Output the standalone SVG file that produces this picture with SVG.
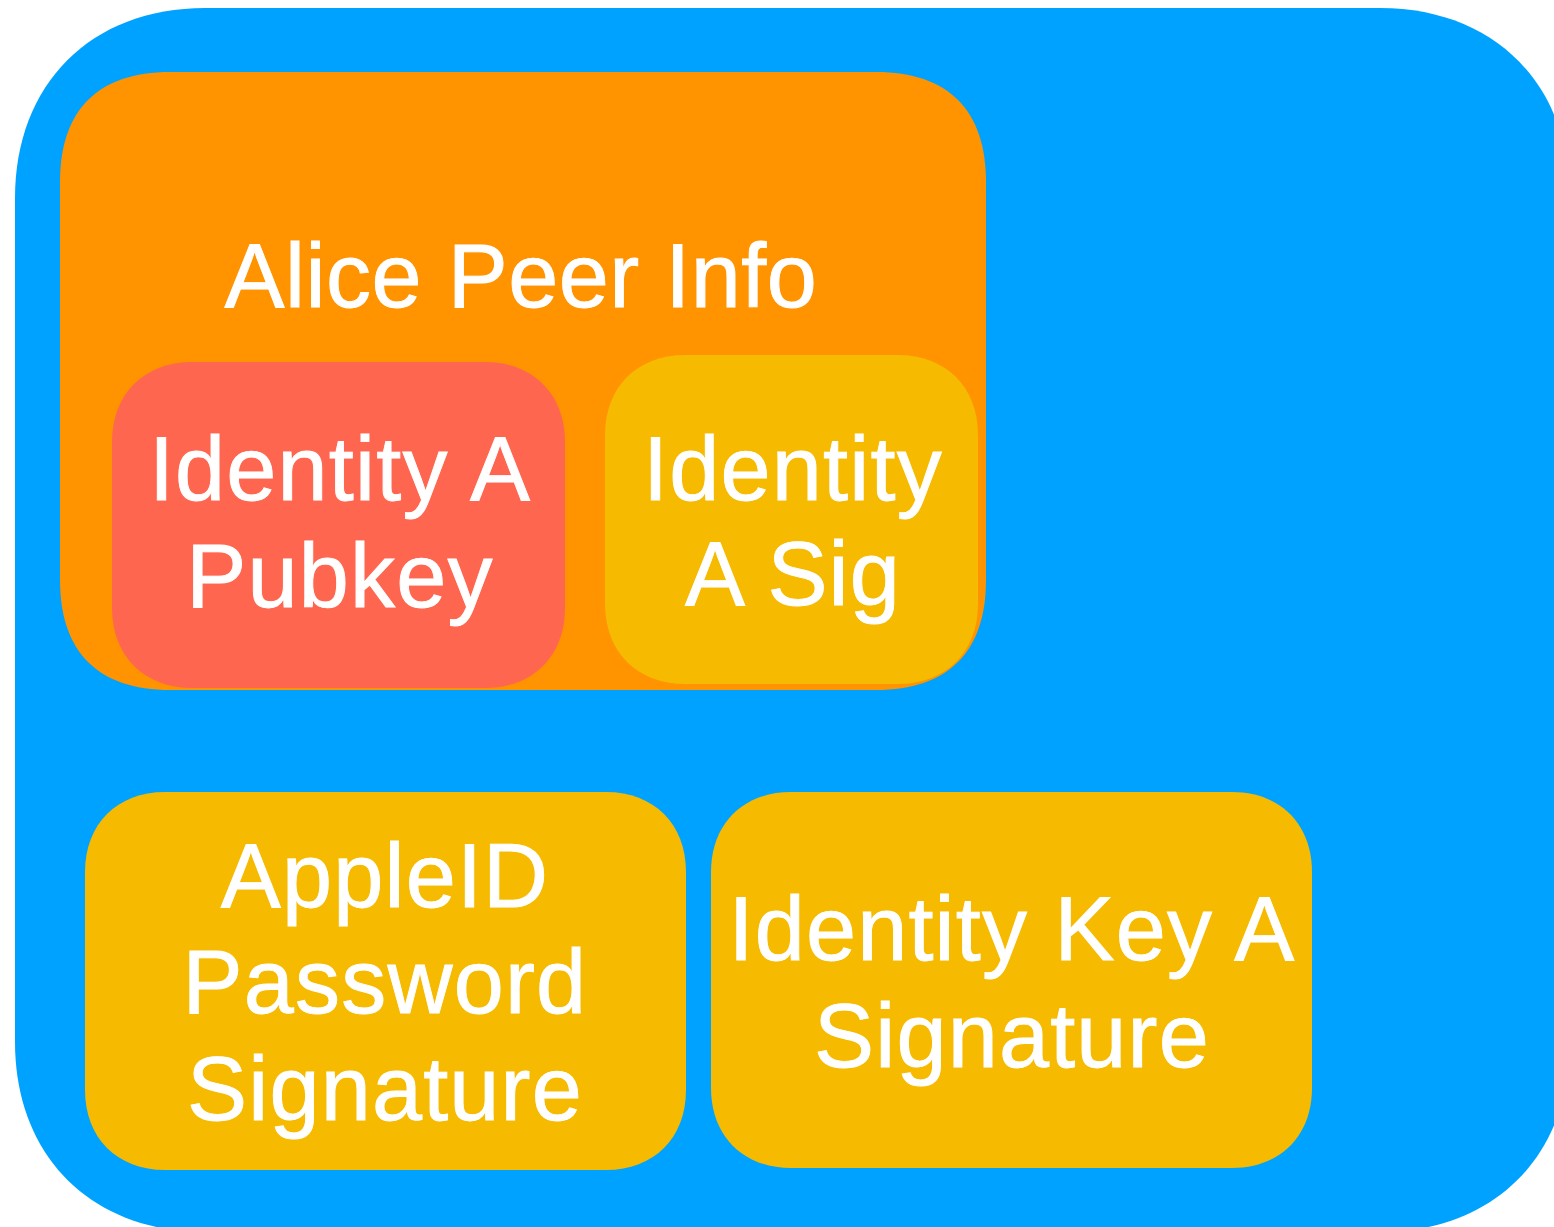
<svg xmlns="http://www.w3.org/2000/svg" width="1554" height="1227" viewBox="0 0 1554 1227">
<style>
.t{font-family:"Liberation Sans",Arial,sans-serif;font-size:90px;fill:#fff;stroke:#fff;stroke-width:0.9px;letter-spacing:1.2px;text-anchor:middle}
.blue{fill:#00A2FF}.orange{fill:#FF9300}.red{fill:#FF6650}.yellow{fill:#F6BA00}
</style>
<rect width="1554" height="1227" fill="#fff"/>
<g id="outer">
<path class="blue" d="M205,8 H1380 C1494,8 1570,84 1570,198 V1042 C1570,1156 1494,1232 1380,1232 H205 C91,1232 15,1156 15,1042 V198 C15,84 91,8 205,8 Z"/>
</g>
<g id="alice-peer-info">
<path class="orange" d="M170,72 H876 C948,72 986,110 986,182 V580 C986,652 948,690 876,690 H170 C98,690 60,652 60,580 V182 C60,110 98,72 170,72 Z"/>
<text class="t" x="521" y="307" style="letter-spacing:0.5px">Alice Peer Info</text>
</g>
<g id="identity-a-pubkey">
<path class="red" d="M192,362 H485 C533,362 565,394 565,442 V608 C565,656 533,688 485,688 H192 C144,688 112,656 112,608 V442 C112,394 144,362 192,362 Z"/>
<text class="t" x="340" y="500">Identity A</text>
<text class="t" x="340" y="607">Pubkey</text>
</g>
<g id="identity-a-sig">
<path class="yellow" d="M685,355 H898 C946,355 978,387 978,435 V604 C978,652 946,684 898,684 H685 C637,684 605,652 605,604 V435 C605,387 637,355 685,355 Z"/>
<text class="t" x="793" y="500">Identity</text>
<text class="t" x="793" y="605">A Sig</text>
</g>
<g id="appleid-password-signature">
<path class="yellow" d="M165,792 H606 C654,792 686,824 686,872 V1090 C686,1138 654,1170 606,1170 H165 C117,1170 85,1138 85,1090 V872 C85,824 117,792 165,792 Z"/>
<text class="t" x="385" y="907">AppleID</text>
<text class="t" x="385" y="1013">Password</text>
<text class="t" x="385" y="1120">Signature</text>
</g>
<g id="identity-key-a-signature">
<path class="yellow" d="M791,792 H1232 C1280,792 1312,824 1312,872 V1088 C1312,1136 1280,1168 1232,1168 H791 C743,1168 711,1136 711,1088 V872 C711,824 743,792 791,792 Z"/>
<text class="t" x="1012" y="960">Identity Key A</text>
<text class="t" x="1012" y="1067">Signature</text>
</g>
<g id="connectors"></g>
</svg>
